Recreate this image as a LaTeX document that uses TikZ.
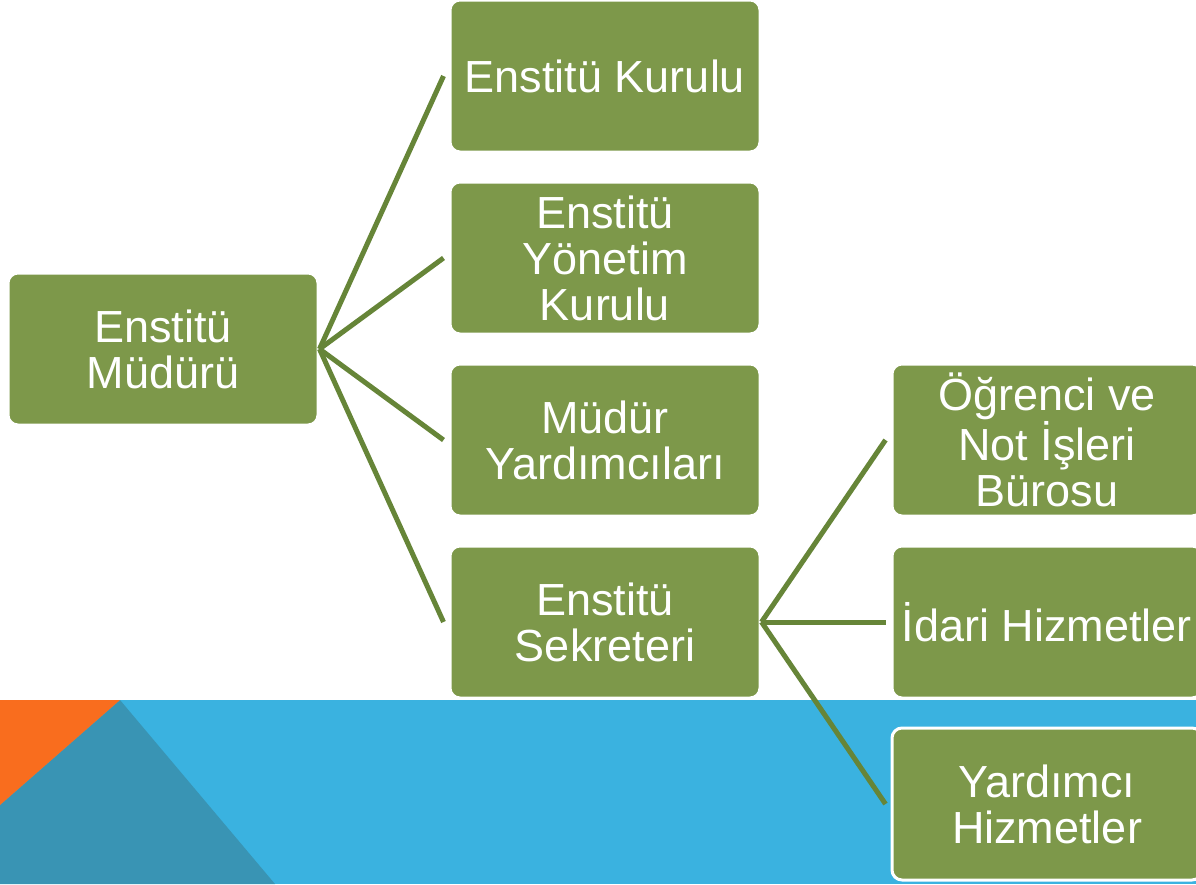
\documentclass[tikz,border=0pt]{standalone}
\usepackage{fontspec}
\setmainfont{Liberation Sans}
\definecolor{boxgreen}{HTML}{7D984A}
\definecolor{linkgreen}{HTML}{668538}
\definecolor{bandblue}{HTML}{3AB2E0}
\definecolor{darkblue}{HTML}{3994B4}
\definecolor{cornerorange}{HTML}{F96D1E}

\begin{document}
\begin{tikzpicture}[x=1pt, y=-1pt,
    unit/.style={draw=white, line width=3pt, fill=boxgreen, rounded corners=10pt,
      minimum width=310pt, minimum height=152pt, inner sep=0pt,
      text=white, align=center, font=\fontsize{45}{46}\selectfont},
    link/.style={linkgreen, line width=5pt}]

      \clip (0, 0) rectangle (1196, 884);
      \fill[white] (0, 0) rectangle (1196, 884);

      % background band
      \fill[bandblue] (0, 700) rectangle (1196, 884);
      \fill[darkblue] (120, 700) -- (275, 884) -- (0, 884) -- (0, 805) -- cycle;
      \fill[cornerorange] (0, 700) -- (120, 700) -- (0, 805) -- cycle;

      \node[unit] (mudur) at (163, 349) {Enstitü\\Müdürü};

      \node[unit] (kurul) at (605, 76) {Enstitü Kurulu};
      \node[unit] (yonetim) at (605, 258) {Enstitü\\Yönetim\\Kurulu};
      \node[unit] (yard) at (605, 440) {Müdür\\Yardımcıları};
      \node[unit] (sekreter) at (605, 622) {Enstitü\\Sekreteri};

      \node[unit] (ogrenci) at (1047, 440) {Öğrenci ve\\Not İşleri\\Bürosu};
      \node[unit] (idari) at (1047, 622) {İdari Hizmetler};
      \node[unit] (yardimci) at (1047, 804) {Yardımcı\\Hizmetler};

      \draw[link] (mudur.east) -- ([xshift=-5pt]kurul.west);
      \draw[link] (mudur.east) -- ([xshift=-5pt]yonetim.west);
      \draw[link] (mudur.east) -- ([xshift=-5pt]yard.west);
      \draw[link] (mudur.east) -- ([xshift=-5pt]sekreter.west);

      \draw[link] (sekreter.east) -- ([xshift=-5pt]ogrenci.west);
      \draw[link] (sekreter.east) -- ([xshift=-5pt]idari.west);
      \draw[link] (sekreter.east) -- ([xshift=-5pt]yardimci.west);

\end{tikzpicture}
\end{document}
